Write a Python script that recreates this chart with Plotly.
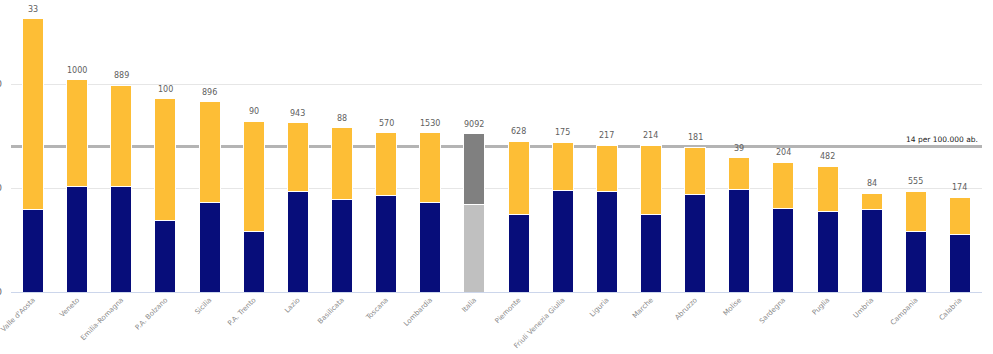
import plotly.graph_objects as go

regions = ["Valle d'Aosta", "Veneto", "Emilia-Romagna", "P.A. Bolzano", "Sicilia", "P.A. Trento",
           "Lazio", "Basilicata", "Toscana", "Lombardia", "Italia", "Piemonte",
           "Friuli Venezia Giulia", "Liguria", "Marche", "Abruzzo", "Molise", "Sardegna",
           "Puglia", "Umbria", "Campania", "Calabria"]
# lower (navy) segment and total height (per 100.000 ab.)
lower = [7.9, 10.1, 10.1, 6.9, 8.6, 5.8, 9.7, 8.9, 9.3, 8.6, 8.4, 7.5,
         9.8, 9.7, 7.5, 9.4, 9.9, 8.0, 7.7, 7.9, 5.8, 5.5]
total = [26.3, 20.4, 19.9, 18.6, 18.3, 16.4, 16.3, 15.8, 15.3, 15.3, 15.2, 14.5,
         14.4, 14.1, 14.1, 13.9, 12.9, 12.5, 12.1, 9.5, 9.7, 9.1]
counts = [33, 1000, 889, 100, 896, 90, 943, 88, 570, 1530, 9092, 628,
          175, 217, 214, 181, 39, 204, 482, 84, 555, 174]
threshold = 14
threshold_label = "14 per 100.000 ab."

upper = [round(t - l, 2) for t, l in zip(total, lower)]

NAVY = "#070d7a"
YELLOW = "#fdbe36"
col_low = ["#c0c0c0" if r == "Italia" else NAVY for r in regions]
col_up = ["#808080" if r == "Italia" else YELLOW for r in regions]

fig = go.Figure()
fig.add_trace(go.Bar(x=regions, y=lower, marker=dict(color=col_low, line=dict(color="white", width=1)),
                     hoverinfo="skip"))
fig.add_trace(go.Bar(x=regions, y=upper, marker=dict(color=col_up, line=dict(color="white", width=1)),
                     hoverinfo="skip"))

for r, t, c in zip(regions, total, counts):
    fig.add_annotation(x=r, y=t, text=str(c), showarrow=False, yanchor="bottom", yshift=3,
                       font=dict(family="DejaVu Sans", size=8, color="#606060"))

fig.add_shape(type="line", xref="paper", x0=0, x1=1, yref="y", y0=threshold, y1=threshold,
              line=dict(color="#b4b4b4", width=3), layer="below")
fig.add_annotation(xref="paper", x=0.998, yref="y", y=threshold, text=threshold_label,
                   showarrow=False, xanchor="right", yanchor="bottom", yshift=0,
                   font=dict(family="DejaVu Sans", size=7.5, color="#222222"))

fig.update_layout(
    width=993, height=354,
    margin=dict(l=11, r=11, t=0, b=62),
    barmode="stack", bargap=0.525,
    showlegend=False,
    plot_bgcolor="white", paper_bgcolor="white",
    xaxis=dict(range=[-0.5, len(regions) - 0.5], tickangle=-45,
               tickfont=dict(family="DejaVu Sans", size=7, color="#888888"),
               showline=True, linecolor="#ccd6eb", linewidth=1, ticks="", showgrid=False,
               automargin=False),
    yaxis=dict(range=[0, 28.08], tickvals=[0, 10, 20], showgrid=True, gridcolor="#e6e6e6",
               zeroline=False, tickfont=dict(family="DejaVu Sans", size=9, color="#666666"),
               ticklabelstandoff=8, automargin=False),
)

fig.write_html("out.html")
